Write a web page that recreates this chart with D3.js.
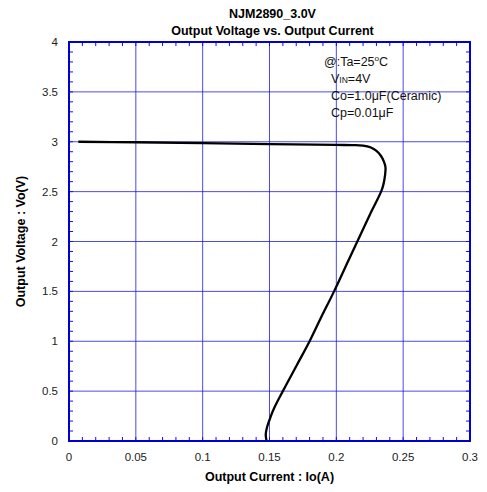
<!DOCTYPE html>
<html>
<head>
<meta charset="utf-8">
<script src="https://cdn.jsdelivr.net/npm/d3@7"></script>
<style>
  body { margin: 0; background: #fff; }
  text { font-family: Arial, "Liberation Sans", sans-serif; }
</style>
</head>
<body>
<div id="chart"></div>
<script>
// curve: output current (A) vs output voltage (V)
const current = [0.007, 0.05, 0.1, 0.15, 0.2, 0.212, 0.22, 0.2255, 0.2298, 0.2333, 0.2356, 0.2368, 0.2364, 0.2352, 0.2335, 0.2262, 0.2157, 0.2087, 0.1983, 0.189, 0.18, 0.17, 0.16, 0.1535, 0.1505, 0.1482, 0.1472, 0.1474, 0.1479];
const voltage = [3.0, 2.995, 2.986, 2.977, 2.968, 2.966, 2.962, 2.945, 2.91, 2.86, 2.8, 2.74, 2.66, 2.57, 2.5, 2.3, 2.0, 1.8, 1.5, 1.25, 1.0, 0.75, 0.5, 0.33, 0.23, 0.14, 0.07, 0.03, 0.0];

const xTicks = [0, 0.05, 0.1, 0.15, 0.2, 0.25, 0.3];
const yTicks = [0, 0.5, 1, 1.5, 2, 2.5, 3, 3.5, 4];
const xMinor = d3.range(0, 0.3001, 0.01);
const yMinor = d3.range(0, 4.001, 0.1);

const title1 = "NJM2890_3.0V";
const title2 = "Output Voltage vs. Output Current";
const xTitle = "Output Current : Io(A)";
const yTitle = "Output Voltage : Vo(V)";

const width = 487, height = 492;
const margin = { left: 69, right: 17, top: 42, bottom: 51 };

const svg = d3.select("#chart").append("svg")
  .attr("width", width)
  .attr("height", height);

const x = d3.scaleLinear().domain([0, 0.3]).range([margin.left, width - margin.right]);
const y = d3.scaleLinear().domain([0, 4]).range([height - margin.bottom, margin.top]);

const blue = "#1010e0";

// grid
svg.append("g")
  .selectAll("line")
  .data(xTicks.slice(1, -1))
  .join("line")
  .attr("x1", d => x(d)).attr("x2", d => x(d))
  .attr("y1", y(0)).attr("y2", y(4))
  .attr("stroke", blue)
  .attr("stroke-width", 1)
  .attr("opacity", 0.75);

svg.append("g")
  .selectAll("line")
  .data(yTicks.slice(1, -1))
  .join("line")
  .attr("x1", x(0)).attr("x2", x(0.3))
  .attr("y1", d => y(d)).attr("y2", d => y(d))
  .attr("stroke", blue)
  .attr("stroke-width", 1)
  .attr("opacity", 0.75);

// minor ticks, inward on all four sides
const tk = 4;
const gTicks = svg.append("g").attr("stroke", blue).attr("stroke-width", 1);
gTicks.selectAll(".xb").data(xMinor).join("line").attr("class", "xb")
  .attr("x1", d => x(d)).attr("x2", d => x(d))
  .attr("y1", y(0)).attr("y2", y(0) - tk);
gTicks.selectAll(".xt").data(xMinor).join("line").attr("class", "xt")
  .attr("x1", d => x(d)).attr("x2", d => x(d))
  .attr("y1", y(4)).attr("y2", y(4) + tk);
gTicks.selectAll(".yl").data(yMinor).join("line").attr("class", "yl")
  .attr("x1", x(0)).attr("x2", x(0) + tk)
  .attr("y1", d => y(d)).attr("y2", d => y(d));
gTicks.selectAll(".yr").data(yMinor).join("line").attr("class", "yr")
  .attr("x1", x(0.3)).attr("x2", x(0.3) - tk)
  .attr("y1", d => y(d)).attr("y2", d => y(d));

// curve
const pts = current.map((c, i) => [c, voltage[i]]);
svg.append("path")
  .datum(pts)
  .attr("fill", "none")
  .attr("stroke", "#000")
  .attr("stroke-width", 2.3)
  .attr("stroke-linejoin", "round")
  .attr("d", d3.line().x(d => x(d[0])).y(d => y(d[1])).curve(d3.curveCatmullRom.alpha(0.5)));

// frame
svg.append("rect")
  .attr("x", x(0)).attr("y", y(4))
  .attr("width", x(0.3) - x(0)).attr("height", y(0) - y(4))
  .attr("fill", "none")
  .attr("stroke", "#0000d0")
  .attr("stroke-width", 2);

// tick labels
svg.append("g")
  .selectAll("text")
  .data(xTicks)
  .join("text")
  .attr("x", d => x(d))
  .attr("y", y(0) + 20)
  .attr("text-anchor", "middle")
  .attr("font-size", 11.5)
  .attr("fill", "#222")
  .text(d => d);

svg.append("g")
  .selectAll("text")
  .data(yTicks)
  .join("text")
  .attr("x", x(0) - 11)
  .attr("y", d => y(d) + 4)
  .attr("text-anchor", "end")
  .attr("font-size", 11.5)
  .attr("fill", "#222")
  .text(d => d);

// titles
const cx = (x(0) + x(0.3)) / 2 + 3;
svg.append("text").attr("x", cx).attr("y", 18)
  .attr("text-anchor", "middle").attr("font-size", 12.5).attr("font-weight", "bold")
  .text(title1);
svg.append("text").attr("x", cx).attr("y", 35)
  .attr("text-anchor", "middle").attr("font-size", 12.5).attr("font-weight", "bold")
  .text(title2);
svg.append("text").attr("x", cx - 3).attr("y", 481)
  .attr("text-anchor", "middle").attr("font-size", 12.5).attr("font-weight", "bold")
  .text(xTitle);
svg.append("text")
  .attr("transform", `translate(25, ${(y(0) + y(4)) / 2}) rotate(-90)`)
  .attr("text-anchor", "middle").attr("font-size", 12.5).attr("font-weight", "bold")
  .text(yTitle);

// conditions note
const note = svg.append("g").attr("font-size", 12.5).attr("fill", "#111");
const t1 = note.append("text").attr("x", 324).attr("y", 66);
t1.append("tspan").text("@:Ta=25");
t1.append("tspan").attr("font-size", 8).attr("dy", -5).text("o");
t1.append("tspan").attr("dy", 5).text("C");
const t2 = note.append("text").attr("x", 331).attr("y", 83);
t2.append("tspan").text("V");
t2.append("tspan").attr("font-size", 8.5).text("IN");
t2.append("tspan").text("=4V");
note.append("text").attr("x", 331).attr("y", 100).text("Co=1.0μF(Ceramic)");
note.append("text").attr("x", 331).attr("y", 117).text("Cp=0.01μF");
</script>
</body>
</html>
